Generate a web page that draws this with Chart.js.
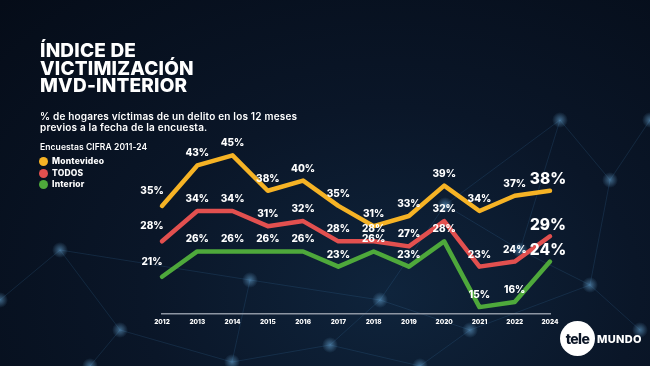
<!DOCTYPE html>
<html>
<head>
<meta charset="utf-8">
<script src="https://cdn.jsdelivr.net/npm/chart.js@4.4.1/dist/chart.umd.min.js"></script>
<style>
  html, body { margin: 0; padding: 0; }
  body {
    width: 650px; height: 366px; overflow: hidden; position: relative;
    background: radial-gradient(ellipse at 60% 80%, #0f243c 0%, #0a1628 45%, #050c18 100%);
    font-family: Inter, "Open Sans", sans-serif; color: #fff;
  }
  #bg, #myChart { position: absolute; left: 0; top: 0; }
  .title {
    position: absolute; left: 40px; top: 42px;
    font-size: 19px; line-height: 17.5px; font-weight: 800; letter-spacing: 0.2px;
  }
  .subtitle {
    position: absolute; left: 40px; top: 111px;
    font-size: 10px; line-height: 11px; font-weight: 600; letter-spacing: 0.2px;
  }
  .source {
    position: absolute; left: 40px; top: 142px;
    font-size: 8.5px; font-weight: 600; letter-spacing: 0.1px;
  }
  .legend { position: absolute; left: 39px; top: 156px; font-size: 8.5px; font-weight: 800; letter-spacing: 0.2px; }
  .legend div { height: 11.5px; line-height: 11.5px; display: flex; align-items: center; }
  .legend span.dot { width: 9px; height: 9px; border-radius: 50%; display: inline-block; margin-right: 4px; }
  .logo { position: absolute; left: 560px; top: 321px; display: flex; align-items: center; }
  .logo .circle {
    width: 35px; height: 35px; border-radius: 50%; background: #fff; color: #0b1526;
    font-weight: 800; font-size: 14px; display: flex; align-items: center; justify-content: center; letter-spacing: -0.6px;
  }
  .logo .mundo { font-weight: 800; font-size: 11px; margin-left: 2px; letter-spacing: 0.3px; }
</style>
</head>
<body>
<canvas id="bg" width="650" height="366"></canvas>
<canvas id="myChart" width="650" height="366"></canvas>

<div class="title">ÍNDICE DE<br>VICTIMIZACIÓN<br>MVD-INTERIOR</div>
<div class="subtitle">% de hogares víctimas de un delito en los 12 meses<br>previos a la fecha de la encuesta.</div>
<div class="source">Encuestas CIFRA 2011-24</div>
<div class="legend" id="legend"></div>
<div class="logo"><div class="circle">tele</div><div class="mundo">MUNDO</div></div>

<script>
// Datos
const years = ["2012", "2013", "2014", "2015", "2016", "2017", "2018", "2019", "2020", "2021", "2022", "2024"];
const montevideo = [35, 43, 45, 38, 40, 35, 31, 33, 39, 34, 37, 38];
const todos = [28, 34, 34, 31, 32, 28, 28, 27, 32, 23, 24, 29];
const interior = [21, 26, 26, 26, 26, 23, 26, 23, 28, 15, 16, 24];
const seriesNames = ["Montevideo", "TODOS", "Interior"];
const seriesColors = ["#f6b325", "#e2504f", "#4ea83b"];

// fondo (red de puntos decorativa)
const bg = document.getElementById('bg').getContext('2d');
const nodes = [[0, 300], [60, 250], [120, 330], [232, 362], [250, 280], [330, 345], [380, 300],
  [445, 205], [470, 330], [520, 250], [590, 285], [610, 180], [650, 120], [560, 120], [640, 330], [420, 366], [90, 366]];
const links = [[0, 1], [1, 2], [2, 3], [3, 4], [4, 1], [3, 5], [5, 6], [6, 4], [6, 7], [7, 9], [9, 10],
  [10, 11], [11, 12], [11, 13], [13, 9], [10, 14], [8, 10], [8, 6], [5, 15], [15, 8], [2, 16], [7, 13]];
bg.lineWidth = 1;
links.forEach(([a, b]) => {
  bg.strokeStyle = 'rgba(60,120,170,0.2)';
  bg.beginPath();
  bg.moveTo(nodes[a][0], nodes[a][1]);
  bg.lineTo(nodes[b][0], nodes[b][1]);
  bg.stroke();
});
nodes.forEach(([x, y]) => {
  const g = bg.createRadialGradient(x, y, 0, x, y, 8);
  g.addColorStop(0, 'rgba(120,190,240,0.5)');
  g.addColorStop(1, 'rgba(120,190,240,0)');
  bg.fillStyle = g;
  bg.beginPath();
  bg.arc(x, y, 8, 0, Math.PI * 2);
  bg.fill();
});

// leyenda
const legend = document.getElementById('legend');
seriesNames.forEach((name, i) => {
  const row = document.createElement('div');
  row.innerHTML = '<span class="dot" style="background:' + seriesColors[i] + '"></span>' + name;
  legend.appendChild(row);
});

// etiquetas de valores
const valueLabels = {
  id: 'valueLabels',
  afterDatasetsDraw(chart) {
    const ctx = chart.ctx;
    ctx.save();
    ctx.fillStyle = '#fff';
    ctx.textAlign = 'center';
    ctx.textBaseline = 'middle';
    chart.data.datasets.forEach((ds, di) => {
      const meta = chart.getDatasetMeta(di);
      meta.data.forEach((pt, i) => {
        const last = i === ds.data.length - 1;
        const first = i === 0;
        ctx.font = last ? '800 15.5px Inter, sans-serif' : '800 10px Inter, sans-serif';
        const dx = first ? -10 : (last ? -2 : 0);
        const dy = first ? 15 : (last ? 11 : 12);
        ctx.fillText(ds.data[i] + '%', pt.x + dx, pt.y - dy);
      });
    });
    ctx.restore();
  }
};

const ctx = document.getElementById('myChart');

new Chart(ctx, {
  type: 'line',
  data: {
    labels: years,
    datasets: [
      { label: seriesNames[0], data: montevideo, borderColor: seriesColors[0] },
      { label: seriesNames[1], data: todos, borderColor: seriesColors[1] },
      { label: seriesNames[2], data: interior, borderColor: seriesColors[2] },
    ]
  },
  options: {
    responsive: false,
    animation: false,
    devicePixelRatio: 1,
    layout: { padding: { left: 162, right: 100, top: 130, bottom: 36 } },
    elements: {
      line: { borderWidth: 4.5, tension: 0, borderCapStyle: 'round', borderJoinStyle: 'round', fill: false },
      point: { radius: 0, hoverRadius: 0 }
    },
    datasets: { line: { clip: false } },
    plugins: { legend: { display: false }, tooltip: { enabled: false } },
    scales: {
      x: {
        offset: false,
        grid: { display: false, drawTicks: false },
        border: { display: true, color: '#8d96a3', width: 1.5 },
        ticks: {
          color: '#fff',
          padding: 4,
          maxRotation: 0,
          autoSkip: false,
          font: { family: 'Inter, sans-serif', size: 6.5, weight: '800' }
        }
      },
      y: { display: false, min: 13.6, max: 50 }
    }
  },
  plugins: [valueLabels]
});
</script>
</body>
</html>
